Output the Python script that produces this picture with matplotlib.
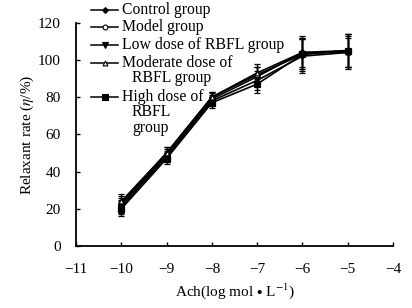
import numpy as np
import matplotlib.pyplot as plt
from matplotlib.lines import Line2D

plt.rcParams['font.family'] = ['Liberation Serif', 'DejaVu Serif']
plt.rcParams['mathtext.fontset'] = 'stix'

# --- Data ---
ach = [-10, -9, -8, -7, -6, -5]

control = [22, 49, 79, 91, 104, 105]
model = [23, 50, 80, 92, 103, 105]
low_dose = [21, 48, 78, 89, 102, 104]
moderate_dose = [24, 50, 80, 93, 104, 104]
high_dose = [20, 47, 77, 87, 103, 105]

control_err = [4, 3, 3, 5, 9, 9]
model_err = [4, 3, 3, 4, 8, 9]
low_err = [4, 3, 3, 5, 9, 8]
moderate_err = [4, 3, 3, 5, 8, 9]
high_err = [4, 3, 3, 5, 9, 9]

labels = ['Control group', 'Model group', 'Low dose of RBFL group',
          'Moderate dose of\nRBFL group', 'High dose of\nRBFL\ngroup']

series = [control, model, low_dose, moderate_dose, high_dose]
errors = [control_err, model_err, low_err, moderate_err, high_err]
markers = ['D', 'o', 'v', '^', 's']
facecolors = ['black', 'white', 'black', 'white', 'black']
sizes = [2.5, 3, 3.5, 3, 3.5]

fig = plt.figure(figsize=(4.12, 3.08), dpi=100)
ax = fig.add_axes([0.1845, 0.201, 0.7695, 0.7255])

for y, e, m, fc, ms in zip(series, errors, markers, facecolors, sizes):
    ax.errorbar(ach, y, yerr=e, color='black', lw=1.2, marker=m, ms=ms + 0.5,
                mfc=fc, mec='black', mew=0.9, capsize=2.5, elinewidth=1.0,
                capthick=1.0)

ax.set_xlim(-11, -4)
ax.set_ylim(0, 120)
ax.set_xticks(range(-11, -3))
ax.set_xticklabels([f'\u2212{abs(v)}' for v in range(-11, -3)])
ax.set_yticks(range(0, 121, 20))
ax.tick_params(direction='in', length=3, width=1, labelsize=11)
ax.tick_params(axis='x', pad=12)
ax.tick_params(axis='y', pad=11)
ax.spines['top'].set_visible(False)
ax.spines['right'].set_visible(False)
ax.spines['left'].set_linewidth(1.3)
ax.spines['bottom'].set_linewidth(1.3)

ax.set_xlabel(r'Ach(log mol $\bullet$ L$^{-1}$)', fontsize=11, labelpad=4)
ax.set_ylabel(r'Relaxant rate ($\eta$/%)', fontsize=11, labelpad=1)

# manual legend, handle aligned with first text line
rows_y = [10, 27, 45, 63, 97]  # pixel rows from top of figure
for (m, fc, ms, lab, py) in zip(markers, facecolors, sizes, labels, rows_y):
    fy = 1 - py / 308
    fig.add_artist(Line2D([91 / 412, 118 / 412], [fy, fy], color='black', lw=1.1,
                          transform=fig.transFigure))
    fig.add_artist(Line2D([104.5 / 412], [fy], marker=m, ms=ms + 0.5, mfc=fc,
                          mec='black', mew=0.8, ls='none', transform=fig.transFigure))
    lines = lab.split('\n')
    fig.text(122 / 412, fy, lines[0], fontsize=11.3, va='center', ha='left')
    for i, extra in enumerate(lines[1:], start=1):
        fig.text(132 / 412, 1 - (py + 15.5 * i) / 308, extra, fontsize=11.3,
                 va='center', ha='left')

fig.savefig('out.png', dpi=100)
